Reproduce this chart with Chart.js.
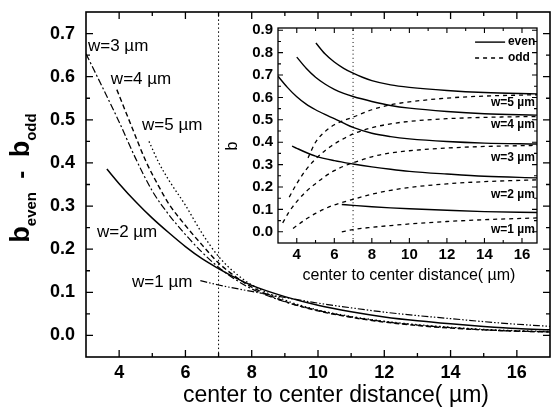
<!DOCTYPE html>
<html>
<head>
<meta charset="utf-8">
<script src="https://cdn.jsdelivr.net/npm/chart.js@4.4.0/dist/chart.umd.min.js"></script>
<style>
  body { margin: 0; background: #fff; }
  #wrap { position: relative; width: 553px; height: 407px; }
  #mainChart { position: absolute; left: 0; top: 0; }
  #insetChart { position: absolute; left: 222px; top: 19px; }
</style>
</head>
<body>
<div id="wrap">
  <canvas id="mainChart" width="553" height="407"></canvas>
  <canvas id="insetChart" width="322" height="272"></canvas>
</div>
<script>
// ---- main plot: b_even - b_odd vs center to center distance ----
const mainXLimits = [3, 17];
const mainYLimits = [-0.05, 0.75];
const mainXTicks = [4, 6, 8, 10, 12, 14, 16];
const mainXMinor = [5, 7, 9, 11, 13, 15];
const mainYTicks = [0, 0.1, 0.2, 0.3, 0.4, 0.5, 0.6, 0.7];
const mainYMinor = [0.05, 0.15, 0.25, 0.35, 0.45, 0.55, 0.65];
const markX = 7;

const w1DiffX = [6.45, 7, 8, 9, 10, 11, 12, 13, 14, 15, 16, 17];
const w1DiffY = [0.127, 0.117, 0.102, 0.088, 0.075, 0.064, 0.054, 0.046, 0.039, 0.032, 0.026, 0.021];
const w2DiffX = [3.63, 4, 4.5, 5, 5.5, 6, 6.5, 7, 7.5, 8, 9, 10, 11, 12, 13, 14, 15, 16, 17];
const w2DiffY = [0.386, 0.352, 0.31, 0.272, 0.238, 0.206, 0.178, 0.155, 0.134, 0.116, 0.09, 0.07, 0.055, 0.043, 0.034, 0.027, 0.021, 0.016, 0.013];
const w3DiffX = [3, 3.5, 4, 4.5, 5, 5.5, 6, 6.5, 7, 7.5, 8, 9, 10, 11, 12, 13, 14, 15, 16, 17];
const w3DiffY = [0.653, 0.575, 0.495, 0.41, 0.335, 0.28, 0.234, 0.193, 0.158, 0.13, 0.108, 0.078, 0.058, 0.043, 0.032, 0.024, 0.018, 0.013, 0.01, 0.008];
const w4DiffX = [3.93, 4.4, 4.8, 5.2, 5.5, 6, 6.5, 7, 7.5, 8, 9, 10, 11, 12, 13, 14, 15, 16, 17];
const w4DiffY = [0.57, 0.48, 0.405, 0.345, 0.305, 0.255, 0.21, 0.168, 0.137, 0.112, 0.079, 0.057, 0.042, 0.031, 0.023, 0.017, 0.013, 0.01, 0.008];
const w5DiffX = [4.9, 5.2, 5.5, 6, 6.5, 7, 7.5, 8, 9, 10, 11, 12, 13, 14, 15, 16, 17];
const w5DiffY = [0.45, 0.4, 0.36, 0.302, 0.237, 0.183, 0.145, 0.117, 0.082, 0.059, 0.044, 0.033, 0.025, 0.019, 0.014, 0.011, 0.009];

// ---- inset: b of even and odd modes ----
const insetXLimits = [3, 16.8];
const insetYLimits = [-0.05, 0.91];
const insetXTicks = [4, 6, 8, 10, 12, 14, 16];
const insetXMinor = [5, 7, 9, 11, 13, 15];
const insetYTicks = [0, 0.1, 0.2, 0.3, 0.4, 0.5, 0.6, 0.7, 0.8, 0.9];
const insetYMinor = [0.05, 0.15, 0.25, 0.35, 0.45, 0.55, 0.65, 0.75, 0.85];

const w5EvenX = [5.02, 5.5, 6, 6.5, 7, 7.5, 8, 9, 10, 12, 14, 16.8];
const w5EvenY = [0.843, 0.795, 0.758, 0.73, 0.708, 0.69, 0.675, 0.656, 0.645, 0.631, 0.622, 0.616];
const w4EvenX = [4, 4.5, 5, 5.5, 6, 6.5, 7, 8, 9, 10, 12, 14, 16.8];
const w4EvenY = [0.78, 0.73, 0.69, 0.66, 0.636, 0.618, 0.604, 0.582, 0.564, 0.552, 0.537, 0.527, 0.521];
const w3EvenX = [3, 3.5, 4, 4.5, 5, 5.5, 6, 6.5, 7, 8, 9, 10, 12, 14, 16.8];
const w3EvenY = [0.695, 0.645, 0.603, 0.57, 0.545, 0.524, 0.505, 0.485, 0.466, 0.44, 0.425, 0.415, 0.403, 0.396, 0.392];
const w2EvenX = [3.75, 4, 4.5, 5, 6, 7, 8, 9, 10, 12, 14, 16.8];
const w2EvenY = [0.383, 0.373, 0.354, 0.338, 0.318, 0.303, 0.29, 0.279, 0.27, 0.258, 0.248, 0.241];
const w1EvenX = [6.4, 7, 8, 9, 10, 12, 14, 16.8];
const w1EvenY = [0.122, 0.118, 0.112, 0.107, 0.103, 0.096, 0.09, 0.086];

const w5OddX = [4.6, 5, 5.5, 6, 6.5, 7, 8, 9, 10, 12, 14, 16.8];
const w5OddY = [0.33, 0.4, 0.447, 0.478, 0.497, 0.512, 0.545, 0.567, 0.58, 0.597, 0.606, 0.612];
const w4OddX = [3.6, 4, 4.5, 5, 5.5, 6, 6.5, 7, 8, 9, 10, 12, 14, 16.8];
const w4OddY = [0.155, 0.215, 0.278, 0.325, 0.362, 0.392, 0.416, 0.437, 0.465, 0.482, 0.493, 0.505, 0.511, 0.515];
const w3OddX = [3.25, 3.6, 4, 4.5, 5, 5.5, 6, 6.5, 7, 8, 9, 10, 12, 14, 16.8];
const w3OddY = [0.04, 0.09, 0.135, 0.18, 0.215, 0.247, 0.273, 0.293, 0.308, 0.335, 0.352, 0.362, 0.374, 0.381, 0.386];
const w2OddX = [3.8, 4.5, 5, 5.5, 6, 7, 8, 9, 10, 12, 14, 16.8];
const w2OddY = [0.015, 0.057, 0.082, 0.103, 0.12, 0.145, 0.168, 0.185, 0.198, 0.214, 0.224, 0.232];
const w1OddX = [6.4, 7, 8, 9, 10, 12, 14, 16.8];
const w1OddY = [0.0, 0.01, 0.02, 0.028, 0.035, 0.046, 0.054, 0.062];

const FONT = '"Liberation Sans", Arial, sans-serif';

function pts(xs, ys) {
  return xs.map((x, i) => ({ x: x, y: ys[i] }));
}

function curve(xs, ys, width, dash) {
  return {
    data: pts(xs, ys),
    borderColor: '#000',
    borderWidth: width,
    borderDash: dash,
    pointRadius: 0,
    showLine: true,
    fill: false,
    cubicInterpolationMode: 'monotone'
  };
}

// frame, inward ticks on all four sides, free text and legend
const paper = {
  id: 'paper',
  afterDraw(chart, args, o) {
    const ctx = chart.ctx, a = chart.chartArea;
    const sx = chart.scales.x, sy = chart.scales.y;
    ctx.save();
    ctx.strokeStyle = '#000';
    ctx.fillStyle = '#000';
    ctx.lineWidth = o.frameWidth;
    ctx.strokeRect(a.left, a.top, a.right - a.left, a.bottom - a.top);

    ctx.lineWidth = o.tickWidth;
    ctx.beginPath();
    function tickX(vals, len) {
      vals.forEach(v => {
        const p = sx.getPixelForValue(v);
        ctx.moveTo(p, a.bottom); ctx.lineTo(p, a.bottom - len);
        ctx.moveTo(p, a.top); ctx.lineTo(p, a.top + len);
      });
    }
    function tickY(vals, len) {
      vals.forEach(v => {
        const p = sy.getPixelForValue(v);
        ctx.moveTo(a.left, p); ctx.lineTo(a.left + len, p);
        ctx.moveTo(a.right, p); ctx.lineTo(a.right - len, p);
      });
    }
    tickX(o.xMajor, o.major); tickX(o.xMinor, o.minor);
    tickY(o.yMajor, o.major); tickY(o.yMinor, o.minor);
    ctx.stroke();

    // curve labels, placed in data units
    ctx.textBaseline = 'middle';
    o.notes.forEach(n => {
      ctx.font = o.noteFont;
      ctx.textAlign = n.align;
      ctx.fillText(n.text, sx.getPixelForValue(n.x), sy.getPixelForValue(n.y));
    });

    // legend (even / odd)
    if (o.legend) {
      const L = o.legend;
      L.items.forEach(it => {
        const py = sy.getPixelForValue(it.y);
        ctx.save();
        ctx.lineWidth = it.width;
        ctx.setLineDash(it.dash);
        ctx.beginPath();
        ctx.moveTo(sx.getPixelForValue(L.x0), py);
        ctx.lineTo(sx.getPixelForValue(L.x1), py);
        ctx.stroke();
        ctx.restore();
        ctx.font = o.noteFont;
        ctx.textAlign = 'left';
        ctx.fillText(it.text, sx.getPixelForValue(L.tx), py);
      });
    }

    // axis titles (with subscripts)
    o.titles.forEach(t => {
      ctx.save();
      ctx.translate(t.x, t.y);
      if (t.turn) ctx.rotate(-Math.PI / 2);
      ctx.textBaseline = 'alphabetic';
      ctx.textAlign = 'left';
      let w = 0;
      t.parts.forEach(p => { ctx.font = p.font; w += ctx.measureText(p.text).width; });
      let pos = -w / 2;
      t.parts.forEach(p => {
        ctx.font = p.font;
        ctx.fillText(p.text, pos, p.dy);
        pos += ctx.measureText(p.text).width;
      });
      ctx.restore();
    });
    ctx.restore();
  }
};

function axes(xLim, yLim, xTicks, yTicks, tickFont, xPad, yPad, yWidth, xHeight) {
  return {
    x: {
      type: 'linear', min: xLim[0], max: xLim[1],
      grid: { display: false, drawTicks: false }, border: { display: false },
      afterBuildTicks: s => { s.ticks = xTicks.map(v => ({ value: v })); },
      afterFit: s => { s.height = xHeight; s.paddingLeft = 0; s.paddingRight = 0; },
      ticks: { autoSkip: false, maxRotation: 0, padding: xPad, color: '#000', font: tickFont,
               callback: v => String(v) }
    },
    y: {
      type: 'linear', min: yLim[0], max: yLim[1],
      grid: { display: false, drawTicks: false }, border: { display: false },
      afterBuildTicks: s => { s.ticks = yTicks.map(v => ({ value: v })); },
      afterFit: s => { s.width = yWidth; s.paddingTop = 0; s.paddingBottom = 0; },
      ticks: { autoSkip: false, padding: yPad, color: '#000', font: tickFont,
               callback: v => Number(v).toFixed(1) }
    }
  };
}

const mainChart = new Chart(document.getElementById('mainChart'), {
  type: 'scatter',
  data: {
    datasets: [
      curve(w1DiffX, w1DiffY, 1.2, [7, 2, 1.5, 2, 1.5, 2]),
      curve(w2DiffX, w2DiffY, 1.5, []),
      curve(w3DiffX, w3DiffY, 1.2, [7, 2.5, 2, 2.5]),
      curve(w4DiffX, w4DiffY, 1.4, [5, 3]),
      curve(w5DiffX, w5DiffY, 1.3, [1.5, 2.5]),
      curve([markX, markX], mainYLimits, 1, [1.5, 2.5])
    ]
  },
  options: {
    responsive: false,
    animation: false,
    layout: { padding: { left: 0, right: 3, top: 12, bottom: 0 } },
    plugins: {
      legend: { display: false },
      tooltip: { enabled: false },
      paper: {
        frameWidth: 1.6, tickWidth: 1.3, major: 7, minor: 4,
        xMajor: mainXTicks, xMinor: mainXMinor, yMajor: mainYTicks, yMinor: mainYMinor,
        noteFont: '17px ' + FONT,
        notes: [
          { text: 'w=3 \u00b5m', x: 3.06, y: 0.671, align: 'left' },
          { text: 'w=4 \u00b5m', x: 3.75, y: 0.595, align: 'left' },
          { text: 'w=5 \u00b5m', x: 4.69, y: 0.488, align: 'left' },
          { text: 'w=2 \u00b5m', x: 3.33, y: 0.238, align: 'left' },
          { text: 'w=1 \u00b5m', x: 4.39, y: 0.124, align: 'left' }
        ],
        titles: [
          { x: 336, y: 402, turn: false, parts: [
            { text: 'center to center distance( \u00b5m)', font: '23px ' + FONT, dy: 0 }
          ] },
          { x: 29, y: 178, turn: true, parts: [
            { text: 'b', font: 'bold 27px ' + FONT, dy: 0 },
            { text: 'even', font: 'bold 15px ' + FONT, dy: 7 },
            { text: '  -  ', font: 'bold 24px ' + FONT, dy: 0 },
            { text: 'b', font: 'bold 27px ' + FONT, dy: 0 },
            { text: 'odd', font: 'bold 15px ' + FONT, dy: 7 }
          ] }
        ]
      }
    },
    scales: axes(mainXLimits, mainYLimits, mainXTicks, mainYTicks,
                 { family: FONT, size: 18, weight: 'bold' }, 5, 11, 86, 50)
  },
  plugins: [paper]
});

const insetChart = new Chart(document.getElementById('insetChart'), {
  type: 'scatter',
  data: {
    datasets: [
      curve(w5EvenX, w5EvenY, 1.4, []),
      curve(w4EvenX, w4EvenY, 1.4, []),
      curve(w3EvenX, w3EvenY, 1.4, []),
      curve(w2EvenX, w2EvenY, 1.4, []),
      curve(w1EvenX, w1EvenY, 1.4, []),
      curve(w5OddX, w5OddY, 1.3, [4, 4]),
      curve(w4OddX, w4OddY, 1.3, [4, 4]),
      curve(w3OddX, w3OddY, 1.3, [4, 4]),
      curve(w2OddX, w2OddY, 1.3, [4, 4]),
      curve(w1OddX, w1OddY, 1.3, [4, 4]),
      curve([markX, markX], insetYLimits, 1, [1, 3])
    ]
  },
  options: {
    responsive: false,
    animation: false,
    layout: { padding: { left: 0, right: 7, top: 9, bottom: 0 } },
    plugins: {
      legend: { display: false },
      tooltip: { enabled: false },
      paper: {
        frameWidth: 1.3, tickWidth: 1.1, major: 5, minor: 3,
        xMajor: insetXTicks, xMinor: insetXMinor, yMajor: insetYTicks, yMinor: insetYMinor,
        noteFont: 'bold 12px ' + FONT,
        notes: [
          { text: 'w=5 \u00b5m', x: 16.69, y: 0.575, align: 'right' },
          { text: 'w=4 \u00b5m', x: 16.69, y: 0.477, align: 'right' },
          { text: 'w=3 \u00b5m', x: 16.69, y: 0.33, align: 'right' },
          { text: 'w=2 \u00b5m', x: 16.69, y: 0.164, align: 'right' },
          { text: 'w=1 \u00b5m', x: 16.69, y: 0.008, align: 'right' }
        ],
        legend: {
          x0: 13.5, x1: 15.1, tx: 15.25,
          items: [
            { text: 'even', y: 0.847, dash: [], width: 1.4 },
            { text: 'odd', y: 0.776, dash: [4, 4], width: 1.3 }
          ]
        },
        titles: [
          { x: 187, y: 261, turn: false, parts: [
            { text: 'center to center distance( \u00b5m)', font: '16px ' + FONT, dy: 0 }
          ] },
          { x: 15, y: 127, turn: true, parts: [{ text: 'b', font: '16px ' + FONT, dy: 0 }] }
        ]
      }
    },
    scales: axes(insetXLimits, insetYLimits, insetXTicks, insetYTicks,
                 { family: FONT, size: 15, weight: 'bold' }, 3, 5, 56, 48)
  },
  plugins: [paper]
});
</script>
</body>
</html>
